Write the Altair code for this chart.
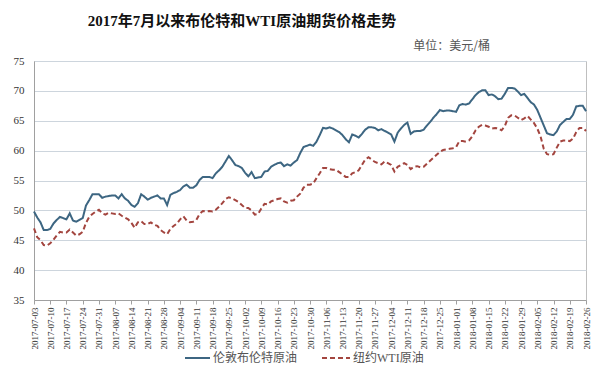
import altair as alt
import pandas as pd

# trading-day categories (weekdays) and weekly tick labels
dates = [d.strftime("%Y-%m-%d") for d in pd.bdate_range("2017-07-03", periods=171)]
tick_dates = dates[::5]

brent = [
    49.8, 48.8, 48.0, 46.7, 46.7, 46.9, 47.8, 48.4, 48.9, 48.7,
    48.5, 49.5, 48.3, 48.1, 48.4, 48.7, 50.8, 51.7, 52.7, 52.7,
    52.7, 52.1, 52.3, 52.4, 52.5, 52.5, 52.0, 52.7, 52.0, 51.6,
    50.9, 50.6, 51.2, 52.7, 52.3, 51.8, 52.1, 52.3, 52.5, 52.0,
    52.0, 50.9, 52.6, 52.9, 53.1, 53.4, 54.0, 54.3, 53.8, 53.8,
    54.2, 55.1, 55.6, 55.6, 55.6, 55.4, 56.2, 56.7, 57.3, 58.2,
    59.1, 58.4, 57.6, 57.4, 57.1, 56.3, 55.7, 56.4, 55.4, 55.5,
    55.6, 56.5, 56.6, 57.3, 57.6, 57.9, 58.0, 57.4, 57.7, 57.5,
    58.0, 58.4, 59.6, 60.6, 60.8, 61.0, 60.8, 61.5, 62.6, 63.8,
    63.7, 63.9, 63.7, 63.4, 63.1, 62.6, 61.9, 61.4, 62.7, 62.5,
    62.2, 62.8, 63.5, 63.9, 63.9, 63.8, 63.4, 63.6, 63.3, 63.0,
    62.7, 61.5, 63.0, 63.7, 64.3, 64.7, 62.8, 63.2, 63.3, 63.3,
    63.5, 64.2, 64.8, 65.5, 66.1, 66.8, 66.6, 66.7, 66.7, 66.6,
    66.5, 67.6, 67.8, 67.7, 67.9, 68.6, 69.3, 69.8, 70.1, 70.1,
    69.3, 69.4, 69.1, 68.6, 68.7, 69.5, 70.5, 70.5, 70.4, 69.9,
    69.3, 69.5, 68.8, 68.1, 67.7, 66.8, 65.5, 64.2, 62.9, 62.7,
    62.6, 63.2, 64.3, 64.8, 65.3, 65.3, 66.0, 67.4, 67.5, 67.5,
    66.6,
]

wti = [
    47.0, 45.5, 45.0, 44.2, 44.1, 44.5, 45.1, 45.8, 46.4, 46.3,
    46.3, 46.8, 46.3, 45.8, 46.0, 46.4, 47.9, 48.9, 49.4, 49.8,
    50.1, 49.5, 49.3, 49.6, 49.5, 49.4, 49.5, 49.1, 48.8, 48.5,
    47.9, 47.1, 48.0, 48.2, 47.7, 47.7, 48.0, 47.6, 47.4, 46.7,
    46.3, 46.0, 46.9, 47.4, 47.8, 48.5, 49.0, 48.3, 48.0, 48.1,
    48.4, 49.4, 49.9, 49.8, 49.9, 49.8, 50.1, 50.6, 51.2, 51.9,
    52.2, 52.0, 51.7, 51.4, 50.9, 50.4, 50.4, 50.0, 49.3, 49.4,
    50.3, 51.1, 51.0, 51.5, 51.7, 51.9, 52.0, 51.5, 51.3, 51.6,
    51.7, 52.3, 52.8, 53.8, 54.3, 54.3, 54.5, 55.4, 56.2, 57.1,
    57.1, 56.9, 56.8, 56.8, 56.4, 56.0, 55.6, 55.6, 56.2, 56.4,
    56.7, 57.6, 58.5, 58.9, 58.5, 58.1, 57.9, 57.7, 58.2, 57.9,
    57.6, 56.5, 57.3, 57.6, 57.9, 57.6, 56.9, 57.3, 57.4, 57.2,
    57.3, 57.8, 58.3, 58.8, 59.3, 59.8, 60.1, 60.2, 60.3, 60.4,
    60.6, 61.6, 61.6, 61.5, 61.7, 62.4, 63.4, 64.0, 64.3, 64.2,
    64.0, 63.7, 63.8, 63.7, 63.4, 64.1, 65.5, 65.9, 65.9, 65.5,
    65.1, 65.4, 65.8, 65.2, 64.6, 63.7, 62.4, 60.3, 59.4, 59.3,
    59.4, 60.5, 61.5, 61.7, 61.7, 61.6, 62.0, 63.1, 63.8, 63.8,
    63.3,
]

series_names = ["伦敦布伦特原油", "纽约WTI原油"]
series_colors = ["#3D6682", "#A3453F"]
y_ticks = [35, 40, 45, 50, 55, 60, 65, 70, 75]
title_text = "2017年7月以来布伦特和WTI原油期货价格走势"
unit_text = "单位：美元/桶"

df = pd.DataFrame({
    "date": dates + dates,
    "value": brent + wti,
    "series": [series_names[0]] * len(dates) + [series_names[1]] * len(dates),
})

SERIF = "Liberation Serif, Noto Sans CJK SC"
CJK = "Noto Sans CJK SC"
W, H = 552, 239

x = alt.X(
    "date:O",
    sort=dates,
    scale=alt.Scale(domain=dates, padding=0),
    axis=alt.Axis(
        values=tick_dates, labelAngle=270, title=None, grid=False,
        labelFont=SERIF, labelFontSize=9, labelColor="#333333",
        tickColor="#A0A0A0", tickSize=4, domainColor="#A0A0A0",
        labelPadding=3,
    ),
)
y = alt.Y(
    "value:Q",
    scale=alt.Scale(domain=[35, 75], nice=False, zero=False),
    axis=alt.Axis(
        values=y_ticks, title=None, ticks=False, labelPadding=10,
        labelFont=SERIF, labelFontSize=11, labelColor="#333333",
        gridColor="#CDD5DD", domainColor="#A0A0A0",
    ),
)

lines = alt.Chart(df).mark_line(strokeWidth=2).encode(
    x=x,
    y=y,
    color=alt.Color("series:N", scale=alt.Scale(domain=series_names, range=series_colors), legend=None),
    strokeDash=alt.StrokeDash("series:N", scale=alt.Scale(domain=series_names, range=[[1, 0], [5, 3]]), legend=None),
)

title = alt.Chart(pd.DataFrame({"t": [title_text]})).mark_text(
    font=SERIF, fontSize=15, fontWeight="bold", color="#111111", align="center", baseline="middle"
).encode(text="t:N", x=alt.value(208), y=alt.value(-40))

unit = alt.Chart(pd.DataFrame({"t": [unit_text]})).mark_text(
    font=CJK, fontSize=12, color="#555555", align="right", baseline="middle"
).encode(text="t:N", x=alt.value(456), y=alt.value(-15))

leg_y = 297
leg1_line = alt.Chart(pd.DataFrame({"t": [series_names[0]]})).mark_rule(
    color=series_colors[0], strokeWidth=2
).encode(x=alt.value(151), x2=alt.value(176), y=alt.value(leg_y))
leg1_text = alt.Chart(pd.DataFrame({"t": [series_names[0]]})).mark_text(
    font=CJK, fontSize=12, color="#555555", align="left", baseline="middle"
).encode(text="t:N", x=alt.value(179), y=alt.value(leg_y))
leg2_line = alt.Chart(pd.DataFrame({"t": [series_names[1]]})).mark_rule(
    color=series_colors[1], strokeWidth=2, strokeDash=[5, 3]
).encode(x=alt.value(288), x2=alt.value(316), y=alt.value(leg_y))
leg2_text = alt.Chart(pd.DataFrame({"t": [series_names[1]]})).mark_text(
    font=SERIF, fontSize=12, color="#555555", align="left", baseline="middle"
).encode(text="t:N", x=alt.value(319), y=alt.value(leg_y))

chart = alt.layer(
    lines, title, unit, leg1_line, leg1_text, leg2_line, leg2_text
).properties(
    width=W, height=H,
    padding={"left": 26, "top": 53, "right": 6, "bottom": 65},
    autosize=alt.AutoSizeParams(type="none"),
    background="white",
).configure_view(stroke="#BFBFBF")

chart.save("out.html", embed_options={"renderer": "svg", "actions": False})
